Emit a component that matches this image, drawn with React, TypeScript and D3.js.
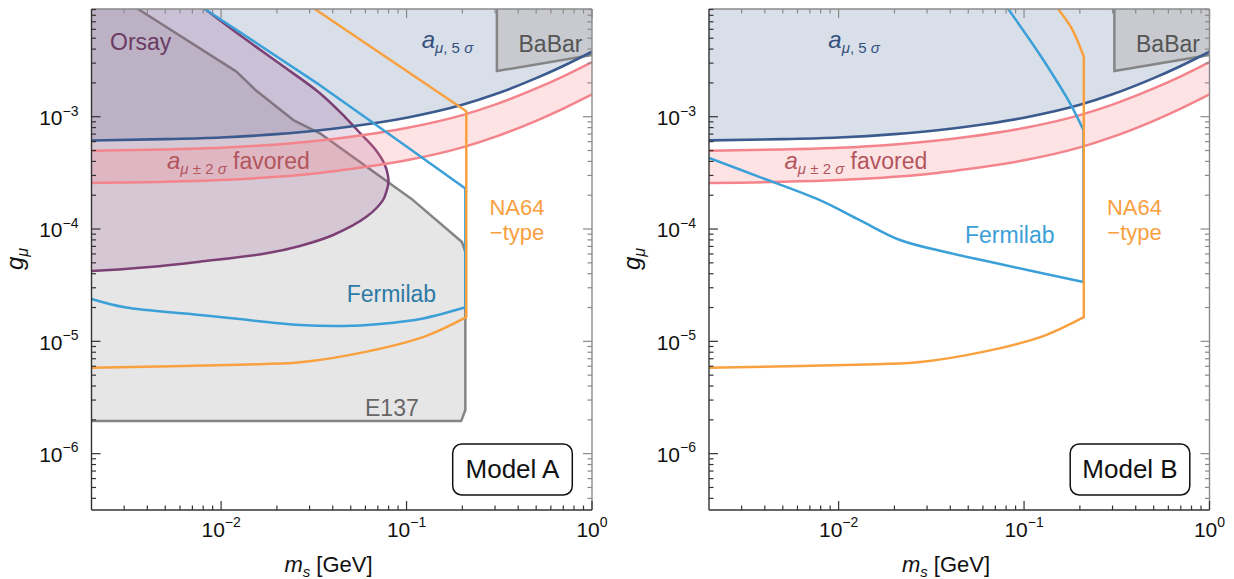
import React from 'react';
import * as d3 from 'd3';

// ---------- axes ----------
const X_DOMAIN: [number, number] = [0.002, 1];
const Y_DOMAIN: [number, number] = [3.15e-7, 9.1e-3];
const X_MAJOR = [0.01, 0.1, 1];
const X_MAJOR_EXP = ['−2', '−1', '0'];
const Y_MAJOR = [1e-6, 1e-5, 1e-4, 1e-3];
const Y_MAJOR_EXP = ['−6', '−5', '−4', '−3'];
const Y_EXT = 1.4e-2; // value beyond the top used for closing regions

// ---------- g-2 lines (both models) ----------
const MASS_GRID = [0.002, 0.005, 0.01, 0.02, 0.034, 0.05, 0.1, 0.2, 0.3, 0.5, 0.7, 1.0];
const AMU_5SIGMA = [6.15e-4, 6.31e-4, 6.53e-4, 7.0e-4, 7.58e-4, 8.19e-4, 9.8e-4, 1.277e-3, 1.583e-3, 2.204e-3, 2.83e-3, 3.79e-3];
const AMU_2SIGMA_UPPER = [4.98e-4, 5.11e-4, 5.29e-4, 5.67e-4, 6.14e-4, 6.63e-4, 7.94e-4, 1.034e-3, 1.282e-3, 1.785e-3, 2.292e-3, 3.07e-3];
const AMU_2SIGMA_LOWER = [2.57e-4, 2.63e-4, 2.73e-4, 2.92e-4, 3.16e-4, 3.42e-4, 4.09e-4, 5.33e-4, 6.61e-4, 9.2e-4, 1.181e-3, 1.58e-3];

// ---------- BaBar ----------
const BABAR_M = [0.307, 0.307, 1.0, 1.08, 1.08];
const BABAR_G = [Y_EXT, 2.55e-3, 3.54e-3, 3.6e-3, Y_EXT];

// ---------- Model A: Orsay ----------
const ORSAY_M = [6.37e-3, 8.17e-3, 1.26e-2, 2.08e-2, 3.41e-2, 4.66e-2, 5.61e-2, 6.76e-2, 7.64e-2, 7.99e-2, 7.74e-2, 7.46e-2, 6.1e-2, 4.02e-2, 2.66e-2, 1.76e-2, 7.67e-3, 4.12e-3, 2.0e-3, 1.6e-3];
const ORSAY_G = [1.24e-2, 9.1e-3, 5.33e-3, 2.94e-3, 1.62e-3, 9.94e-4, 7.16e-4, 5.15e-4, 3.71e-4, 2.62e-4, 2.09e-4, 1.81e-4, 1.29e-4, 8.85e-5, 7.07e-5, 6.08e-5, 5.12e-5, 4.59e-5, 4.23e-5, 4.2e-5];
const ORSAY_CLOSE_M = [1.5e-3, 1.5e-3];
const ORSAY_CLOSE_G = [4.2e-5, Y_EXT];

// ---------- Model A: E137 ----------
const E137_M = [2.7e-3, 3.56e-3, 1.21e-2, 1.52e-2, 2.45e-2, 3.41e-2, 0.1083, 0.199, 0.2075, 0.2075, 0.197, 1.5e-3, 1.5e-3];
const E137_G = [1.21e-2, 9.1e-3, 2.52e-3, 1.75e-3, 9.33e-4, 7.12e-4, 1.81e-4, 7.66e-5, 6.25e-5, 2.45e-6, 1.95e-6, 1.95e-6, Y_EXT];

// ---------- Fermilab ----------
const FERMI_A_TOP_M = [6.28e-3, 8.17e-3, 3.41e-2, 9.2e-2, 0.2075, 0.2075];
const FERMI_A_TOP_G = [1.21e-2, 9.1e-3, 1.91e-3, 5.99e-4, 2.3e-4, 2.01e-5];
const FERMI_A_LOW_M = [0.2075, 0.123, 7.18e-2, 4.55e-2, 2.66e-2, 7.67e-3, 3.02e-3, 2.0e-3];
const FERMI_A_LOW_G = [2.01e-5, 1.6e-5, 1.43e-5, 1.37e-5, 1.4e-5, 1.72e-5, 2.01e-5, 2.38e-5];
const FERMI_B_TOP_M = [7.29e-2, 8.22e-2, 0.122, 0.177, 0.209];
const FERMI_B_TOP_G = [1.21e-2, 9.1e-3, 3.54e-3, 1.315e-3, 7.61e-4];
const FERMI_B_LOW_M = [0.209, 7.41e-2, 3.98e-2, 2.14e-2, 1.3e-2, 7.92e-3, 3.76e-3, 2.0e-3];
const FERMI_B_LOW_G = [3.37e-5, 4.88e-5, 6.12e-5, 7.99e-5, 1.2e-4, 1.81e-4, 2.9e-4, 4.29e-4];

// ---------- NA64-type ----------
const NA64_A_TOP_M = [2.48e-2, 3.2e-2, 0.21, 0.21];
const NA64_A_TOP_G = [1.21e-2, 9.1e-3, 1.12e-3, 1.64e-5];
const NA64_B_TOP_M = [0.1355, 0.153, 0.1807, 0.21];
const NA64_B_TOP_G = [1.21e-2, 9.1e-3, 6.12e-3, 3.42e-3];
const NA64_B_VERT_M = [0.21, 0.21];
const NA64_B_VERT_G = [3.42e-3, 1.64e-5];
const NA64_LOW_M = [0.21, 0.128, 6.09e-2, 2.66e-2, 1.25e-2, 2.0e-3];
const NA64_LOW_G = [1.64e-5, 1.12e-5, 8.1e-6, 6.5e-6, 6.2e-6, 5.83e-6];

// ---------- layout ----------
const PLOT_TOP = 9;
const PLOT_BOTTOM = 510;
const PLOT_W = 500.5;
const PANEL_X0 = [91.5, 709];
const FONT = '"Liberation Sans", Arial, Helvetica, sans-serif';

const COL = {
  fiveFill: '#d9dfe9',
  navy: '#3b5a8e',
  bandFill: 'rgba(250,128,136,0.22)',
  bandLine: '#f4848b',
  babarFill: '#c8cacf',
  grayLine: '#858585',
  e137Fill: 'rgba(128,128,128,0.2)',
  orsayFill: 'rgba(128,40,120,0.16)',
  orsayLine: '#7c4075',
  fermi: '#3ba0d8',
  na64: '#f9a03f',
};

type P = [number, number];
const zip = (ms: number[], gs: number[]): P[] => ms.map((m, i) => [m, gs[i]]);

function minorTicks(lo: number, hi: number, majors: number[]) {
  const out: number[] = [];
  for (let e = Math.floor(Math.log10(lo)); e <= Math.ceil(Math.log10(hi)); e++) {
    for (let k = 1; k <= 9; k++) {
      const v = k * Math.pow(10, e);
      if (v > lo * 1.0001 && v < hi * 0.9999 && !majors.some(M => Math.abs(M - v) / v < 1e-6)) out.push(v);
    }
  }
  return out;
}

function Panel({ x0, model }: { x0: number; model: 'A' | 'B' }) {
  const xs = d3.scaleLog().domain(X_DOMAIN).range([x0, x0 + PLOT_W]);
  const ys = d3.scaleLog().domain(Y_DOMAIN).range([PLOT_BOTTOM, PLOT_TOP]);
  const lin = d3.line<P>().x(d => xs(d[0])).y(d => ys(d[1]));
  const mono = d3.line<P>().x(d => xs(d[0])).y(d => ys(d[1])).curve(d3.curveMonotoneX);
  const cat = d3.line<P>().x(d => xs(d[0])).y(d => ys(d[1])).curve(d3.curveCatmullRom.alpha(0.5));
  const cont = (s: string | null) => (s || '').replace(/^M/, 'L');

  const five = zip(MASS_GRID, AMU_5SIGMA);
  const fiveArea = d3.area<P>().x(d => xs(d[0])).y0(ys(Y_EXT)).y1(d => ys(d[1])).curve(d3.curveMonotoneX)(five) || '';
  const bandPts = MASS_GRID.map((m, i) => [m, AMU_2SIGMA_LOWER[i], AMU_2SIGMA_UPPER[i]] as [number, number, number]);
  const bandArea = d3.area<[number, number, number]>().x(d => xs(d[0])).y0(d => ys(d[1])).y1(d => ys(d[2])).curve(d3.curveMonotoneX)(bandPts) || '';

  const clipId = `clip-${model}`;
  const xMinor = minorTicks(X_DOMAIN[0], X_DOMAIN[1], X_MAJOR);
  const yMinor = minorTicks(Y_DOMAIN[0], Y_DOMAIN[1], Y_MAJOR);
  const x1 = x0 + PLOT_W;
  const MAJ = 9, MIN = 4.5;

  const orsayPath = model === 'A'
    ? (cat(zip(ORSAY_M, ORSAY_G)) || '') + cont(lin(zip(ORSAY_CLOSE_M, ORSAY_CLOSE_G))) + 'Z'
    : '';

  const fermiPath = model === 'A'
    ? (lin(zip(FERMI_A_TOP_M, FERMI_A_TOP_G)) || '') + cont(cat(zip(FERMI_A_LOW_M, FERMI_A_LOW_G)))
    : (cat(zip(FERMI_B_TOP_M, FERMI_B_TOP_G)) || '') + cont(cat(zip(FERMI_B_LOW_M, FERMI_B_LOW_G)));

  const na64Top = model === 'A'
    ? (lin(zip(NA64_A_TOP_M, NA64_A_TOP_G)) || '')
    : (cat(zip(NA64_B_TOP_M, NA64_B_TOP_G)) || '') + cont(lin(zip(NA64_B_VERT_M, NA64_B_VERT_G)));
  const na64Path = na64Top + cont(cat(zip(NA64_LOW_M, NA64_LOW_G)));

  const labelFs = 23;
  const subFs = 15;
  const LW = 2.5;

  return (
    <g fontFamily={FONT}>
      <defs>
        <clipPath id={clipId}>
          <rect x={x0} y={PLOT_TOP} width={PLOT_W} height={PLOT_BOTTOM - PLOT_TOP} />
        </clipPath>
      </defs>
      <g clipPath={`url(#${clipId})`}>
        <path d={fiveArea} fill={COL.fiveFill} />
        <path d={lin(zip(BABAR_M, BABAR_G)) + 'Z'} fill={COL.babarFill} stroke={COL.grayLine} strokeWidth={LW} />
        {model === 'A' && (
          <>
            <path d={lin(zip(E137_M, E137_G)) + 'Z'} fill={COL.e137Fill} stroke={COL.grayLine} strokeWidth={LW} strokeLinejoin="round" />
            <path d={orsayPath} fill={COL.orsayFill} stroke={COL.orsayLine} strokeWidth={LW} />
          </>
        )}
        <path d={bandArea} fill={COL.bandFill} />
        <path d={mono(five) || ''} fill="none" stroke={COL.navy} strokeWidth={2.6} />
        <path d={mono(zip(MASS_GRID, AMU_2SIGMA_UPPER)) || ''} fill="none" stroke={COL.bandLine} strokeWidth={LW} />
        <path d={mono(zip(MASS_GRID, AMU_2SIGMA_LOWER)) || ''} fill="none" stroke={COL.bandLine} strokeWidth={LW} />
        <path d={fermiPath} fill="none" stroke={COL.fermi} strokeWidth={LW} strokeLinejoin="round" />
        <path d={na64Path} fill="none" stroke={COL.na64} strokeWidth={LW} strokeLinejoin="round" />
      </g>

      {/* labels inside plot */}
      {model === 'A' && (
        <>
          <text x={x0 + 18.5} y={50} fontSize={labelFs} fill="#6b3b63">Orsay</text>
          <text x={x0 + 273.5} y={416} fontSize={labelFs} fill="#666">E137</text>
        </>
      )}
      <text x={x0 + (model === 'A' ? 330.2 : 119.3)} y={48} fontSize={24} fill="#33507f">
        <tspan fontStyle="italic">a</tspan>
        <tspan fontSize={subFs} dy={5} fontStyle="italic">μ</tspan>
        <tspan fontSize={subFs}>, 5 </tspan>
        <tspan fontSize={subFs} fontStyle="italic">σ</tspan>
      </text>
      <text x={x0 + 427} y={51.7} fontSize={labelFs} fill="#555">BaBar</text>
      <text x={x0 + 75.5} y={168.5} fontSize={labelFs} fill="#b3555c">
        <tspan fontStyle="italic" fontSize={24}>a</tspan>
        <tspan fontSize={subFs} dy={5} fontStyle="italic">μ</tspan>
        <tspan fontSize={subFs}> ± 2 </tspan>
        <tspan fontSize={subFs} fontStyle="italic">σ</tspan>
        <tspan dy={-5}> favored</tspan>
      </text>
      <text x={x0 + (model === 'A' ? 255.2 : 256)} y={model === 'A' ? 301.7 : 243} fontSize={labelFs} fill={model === 'A' ? '#2c7aa5' : COL.fermi}>Fermilab</text>
      <text x={x0 + 425.5} y={215} fontSize={22} fill={COL.na64} textAnchor="middle">NA64</text>
      <text x={x0 + 425.5} y={240} fontSize={22} fill={COL.na64} textAnchor="middle">−type</text>
      <rect x={x0 + 361.2} y={444} width={119.6} height={51} rx={9} fill="#fff" stroke="#111" strokeWidth={1.5} />
      <text x={x0 + 421} y={477.7} fontSize={26} textAnchor="middle" fill="#111">{`Model ${model}`}</text>

      {/* frame */}
      <line x1={x0} y1={PLOT_TOP} x2={x1} y2={PLOT_TOP} stroke="#8a8a8a" strokeWidth={1.4} />
      <line x1={x1} y1={PLOT_TOP} x2={x1} y2={PLOT_BOTTOM} stroke="#8a8a8a" strokeWidth={1.4} />
      <line x1={x0} y1={PLOT_TOP} x2={x0} y2={PLOT_BOTTOM} stroke="#333" strokeWidth={1.4} />
      <line x1={x0} y1={PLOT_BOTTOM} x2={x1} y2={PLOT_BOTTOM} stroke="#333" strokeWidth={1.4} />

      {/* ticks */}
      {[...X_MAJOR.map(v => [v, MAJ]), ...xMinor.map(v => [v, MIN])].map(([v, L], i) => (
        <g key={`xt${i}`}>
          <line x1={xs(v)} x2={xs(v)} y1={PLOT_BOTTOM} y2={PLOT_BOTTOM - L} stroke="#333" strokeWidth={1.2} />
          <line x1={xs(v)} x2={xs(v)} y1={PLOT_TOP} y2={PLOT_TOP + L} stroke="#8a8a8a" strokeWidth={1.2} />
        </g>
      ))}
      {[...Y_MAJOR.map(v => [v, MAJ]), ...yMinor.map(v => [v, MIN])].map(([v, L], i) => (
        <g key={`yt${i}`}>
          <line y1={ys(v)} y2={ys(v)} x1={x0} x2={x0 + L} stroke="#333" strokeWidth={1.2} />
          <line y1={ys(v)} y2={ys(v)} x1={x1} x2={x1 - L} stroke="#8a8a8a" strokeWidth={1.2} />
        </g>
      ))}

      {/* tick labels */}
      {X_MAJOR.map((v, i) => (
        <text key={`xl${i}`} x={xs(v)} y={536.7} fontSize={21} textAnchor="middle" fill="#111">
          10<tspan fontSize={14} dy={-9.5}>{X_MAJOR_EXP[i]}</tspan>
        </text>
      ))}
      {Y_MAJOR.map((v, i) => (
        <text key={`yl${i}`} x={x0 - 13} y={ys(v) + 8.3} fontSize={21} textAnchor="end" fill="#111">
          10<tspan fontSize={14} dy={-9.5}>{Y_MAJOR_EXP[i]}</tspan>
        </text>
      ))}

      {/* axis titles */}
      <text x={x0 + 237} y={572} fontSize={22} textAnchor="middle" fill="#111">
        <tspan fontStyle="italic">m</tspan>
        <tspan fontSize={15} dy={5} fontStyle="italic">s</tspan>
        <tspan dy={-5}> [GeV]</tspan>
      </text>
      <text transform={`translate(${x0 - 69},259) rotate(-90)`} fontSize={24} textAnchor="middle" fill="#111">
        <tspan fontStyle="italic">g</tspan>
        <tspan fontSize={16} dy={5} fontStyle="italic">μ</tspan>
      </text>
    </g>
  );
}

export default function App() {
  return (
    <svg width={1234} height={579} style={{ position: 'absolute', left: 0, top: 0, display: 'block', background: '#fff' }}>
      <rect x={0} y={0} width={1234} height={579} fill="#fff" />
      <Panel x0={PANEL_X0[0]} model="A" />
      <Panel x0={PANEL_X0[1]} model="B" />
    </svg>
  );
}
